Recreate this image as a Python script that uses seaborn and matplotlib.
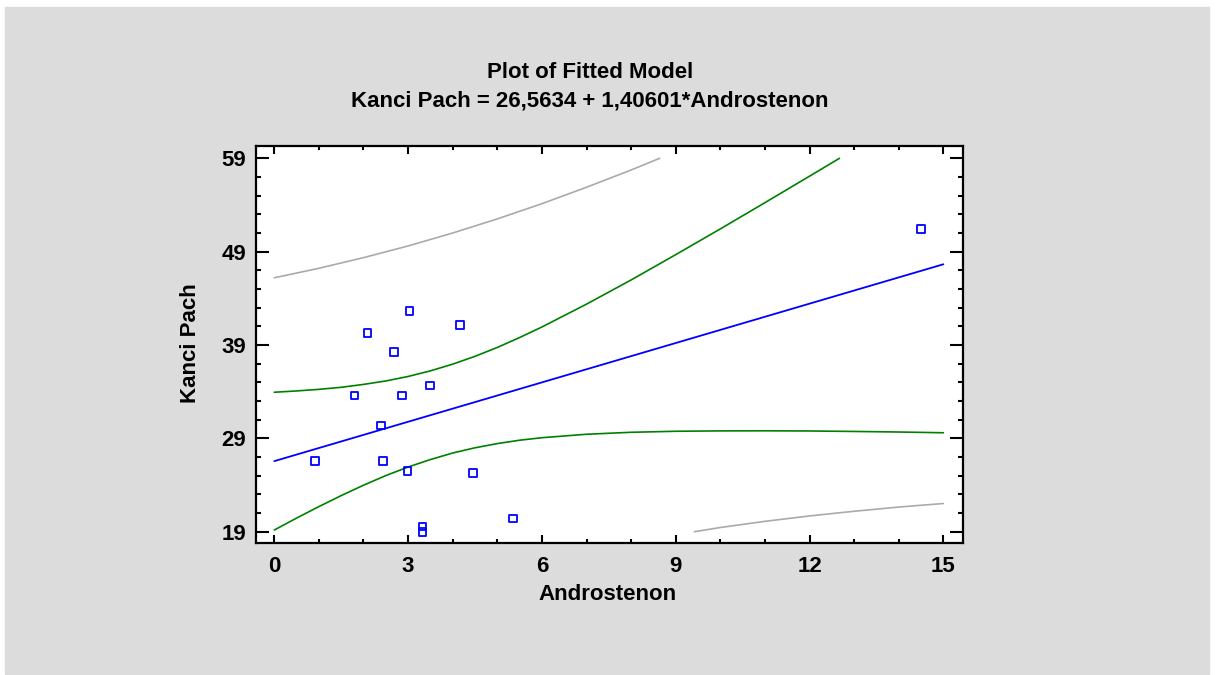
import matplotlib
matplotlib.use("Agg")
import matplotlib.pyplot as plt
from matplotlib.patches import Rectangle
from matplotlib.ticker import MultipleLocator, FixedLocator
import seaborn as sns

# observed points (Androstenon, Kanci Pach)
obs_x = [0.91, 1.80, 2.09, 2.39, 2.44, 2.68, 2.86, 2.99, 3.03, 3.32, 3.32, 3.49, 4.16, 4.46, 5.35, 14.50]
obs_y = [26.57, 33.61, 40.29, 30.36, 26.57, 38.28, 33.61, 25.50, 42.64, 19.54, 18.97, 34.68, 41.17, 25.32, 20.43, 51.43]

# fitted line end points
fit_x = [0, 15]
fit_y = [26.56, 47.65]

# confidence limits (green)
ci_hi_x = [0, 0.5, 1, 1.5, 2, 2.5, 3, 3.5, 4, 4.5, 5, 5.5, 6, 7, 8, 9, 10, 11, 12, 12.67]
ci_hi_y = [33.94, 34.08, 34.25, 34.47, 34.78, 35.15, 35.63, 36.23, 36.95, 37.79, 38.74, 39.80,
           40.93, 43.38, 45.97, 48.68, 51.44, 54.25, 57.09, 59.0]
ci_lo_x = [0, 0.5, 1, 1.5, 2, 2.5, 3, 3.5, 4, 4.5, 5, 5.5, 6, 7, 8, 9, 10, 11, 12, 13, 14, 15]
ci_lo_y = [19.18, 20.46, 21.69, 22.87, 23.98, 25.01, 25.93, 26.73, 27.43, 27.99, 28.44, 28.80,
           29.07, 29.44, 29.65, 29.76, 29.80, 29.81, 29.79, 29.74, 29.68, 29.60]

# prediction limits (gray)
pi_hi_x = [0, 1, 2, 3, 4, 5, 6, 7, 8, 8.64]
pi_hi_y = [46.20, 47.22, 48.36, 49.61, 51.00, 52.51, 54.14, 55.90, 57.75, 59.0]
pi_lo_x = [9.42, 10, 11, 12, 13, 14, 15]
pi_lo_y = [19.0, 19.45, 20.11, 20.69, 21.19, 21.64, 22.02]

x_ticks = [0, 3, 6, 9, 12, 15]
y_ticks = [19, 29, 39, 49, 59]


def main():
    sns.set_style("ticks")
    plt.rcParams["font.family"] = ["Liberation Sans", "DejaVu Sans"]
    plt.rcParams["font.weight"] = "bold"
    plt.rcParams["text.color"] = "black"
    plt.rcParams["axes.labelcolor"] = "black"

    W, H = 1216, 675
    fs = 16
    fig = plt.figure(figsize=(W / 100, H / 100), dpi=100, facecolor="white")
    fig.patches.append(Rectangle((5 / W, 1 - 674 / H), (1209 - 5) / W, (674 - 7) / H,
                                 transform=fig.transFigure, color="#DCDCDC", zorder=-10))

    ax = fig.add_axes([256 / W, 1 - 543 / H, (963 - 256) / W, (543 - 146) / H])
    ax.set_zorder(2)
    ax.set_facecolor("white")

    sns.lineplot(x=pi_hi_x, y=pi_hi_y, color="#AAAAAA", lw=1.2, estimator=None, ax=ax)
    sns.lineplot(x=pi_lo_x, y=pi_lo_y, color="#AAAAAA", lw=1.2, estimator=None, ax=ax)
    sns.lineplot(x=ci_hi_x, y=ci_hi_y, color="#008000", lw=1.2, estimator=None, ax=ax)
    sns.lineplot(x=ci_lo_x, y=ci_lo_y, color="#008000", lw=1.2, estimator=None, ax=ax)
    sns.lineplot(x=fit_x, y=fit_y, color="#0000FF", lw=1.3, estimator=None, ax=ax)
    sns.scatterplot(x=obs_x, y=obs_y, marker="s", s=30, facecolor="none",
                    edgecolor="#0000FF", linewidth=1.3, ax=ax, zorder=5)

    ax.set_xlim(-0.41, 15.44)
    ax.set_ylim(17.79, 60.32)
    ax.xaxis.set_major_locator(FixedLocator(x_ticks))
    ax.yaxis.set_major_locator(FixedLocator(y_ticks))
    ax.xaxis.set_minor_locator(MultipleLocator(1))
    ax.yaxis.set_minor_locator(FixedLocator(range(19, 60, 2)))

    for s in ax.spines.values():
        s.set_visible(True)
        s.set_color("black")
        s.set_linewidth(1.6)

    ax.tick_params(axis="both", which="both", direction="in", top=True, right=True,
                   colors="black", width=1.5, labelsize=fs)
    ax.tick_params(axis="x", which="major", length=6, pad=9)
    ax.tick_params(axis="x", which="minor", length=3)
    ax.tick_params(axis="y", which="major", length=9.5, pad=7)
    ax.tick_params(axis="y", which="minor", length=3.8)
    for lab in ax.get_xticklabels() + ax.get_yticklabels():
        lab.set_fontweight("bold")

    ax.set_xlabel("Androstenon", fontsize=fs, fontweight="bold", va="baseline")
    ax.xaxis.set_label_coords(0.497, (543 - 600) / 397)
    ax.set_ylabel("Kanci Pach", fontsize=fs, fontweight="bold", va="center")
    ax.yaxis.set_label_coords((190.7 - 256) / 707, 0.504)

    fig.text(590 / W, 1 - 78.3 / H, "Plot of Fitted Model", ha="center", va="baseline",
             fontsize=fs, fontweight="bold")
    fig.text(590 / W, 1 - 106 / H, "Kanci Pach = 26,5634 + 1,40601*Androstenon", ha="center",
             va="baseline", fontsize=fs, fontweight="bold")

    fig.savefig("out.png", dpi=100, facecolor=fig.get_facecolor())


if __name__ == "__main__":
    main()
